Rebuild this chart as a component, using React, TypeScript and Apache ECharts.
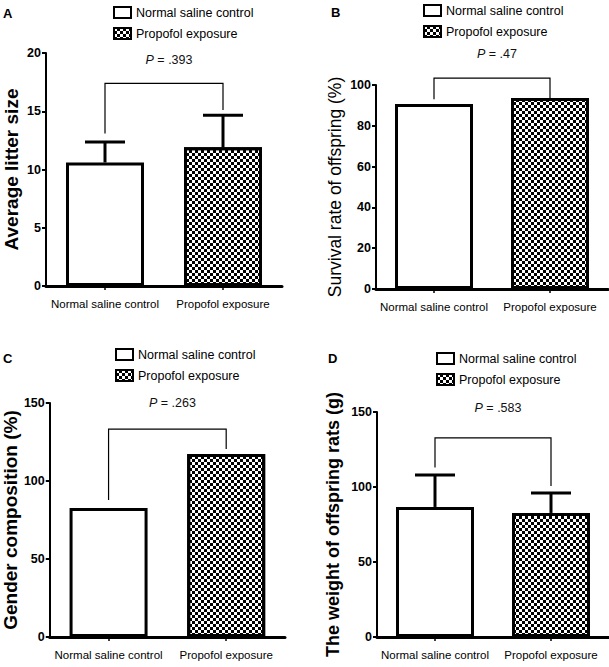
import React, { useEffect, useRef } from "react";
import * as echarts from "echarts";

const categories = ["Normal saline control", "Propofol exposure"];
const seriesNames = ["Normal saline control", "Propofol exposure"];

// Panel A: average litter size (mean, SD)
const litterMean = [10.6, 11.9];
const litterSD = [1.75, 2.75];
// Panel B: survival rate (%)
const survivalRate = [90.7, 93.6];
// Panel C: gender composition (%)
const genderComp = [82.7, 117.3];
// Panel D: weight of offspring rats (g)
const weightMean = [86.7, 82.7];
const weightSD = [21.3, 13.3];

const pValues = [".393", ".47", ".263", ".583"];
// bracket: [left leg bottom, right leg bottom, bracket top, P label level]
const brackets = [
  [13.1, 15.1, 17.4, 19.4],
  [93, 93.6, 103.4, 115],
  [87.8, 120.5, 133.3, 150],
  [113, 100.7, 132.7, 152.7],
];

const yTitles = [
  "Average litter size",
  "Survival rate of offspring (%)",
  "Gender composition (%)",
  "The weight of offspring rats (g)",
];
const yMax = [20, 100, 150, 150];
const yInterval = [5, 20, 50, 50];
const panelLetters = ["A", "B", "C", "D"];

const NARROW = '"Liberation Sans", Arial, sans-serif';
const ARIAL = '"Liberation Sans", Arial, sans-serif';

const grids = [
  { left: 46, top: 53, width: 236, height: 233 },
  { left: 376, top: 85, width: 232, height: 204 },
  { left: 49, top: 403, width: 236, height: 234 },
  { left: 377, top: 412, width: 232, height: 225 },
];
const legendPos = [
  { left: 108, top: 1 },
  { left: 418, top: -1 },
  { left: 110, top: 343 },
  { left: 431, top: 347 },
];
const titleStyle = [
  { gap: 25, size: 19, weight: "bold" },
  { gap: 32, size: 17.5, weight: "normal" },
  { gap: 29, size: 19, weight: "bold" },
  { gap: 35, size: 18, weight: "bold" },
];
const letterPos = [
  [3, 7],
  [331, 6],
  [3, 352],
  [328, 352],
];

const checker = {
  symbol: "rect",
  symbolSize: 1,
  color: "#000",
  backgroundColor: "#fff",
  dashArrayX: [
    [3, 3],
    [0, 3, 3, 0],
  ],
  dashArrayY: [3, 0],
  rotation: 0,
};

export default function App() {
  const ref = useRef<HTMLDivElement>(null);
  useEffect(() => {
    if (!ref.current) return;
    const chart = echarts.init(ref.current, null, { renderer: "svg" });

    const values = [litterMean, survivalRate, genderComp, weightMean];
    const errs: (number[] | null)[] = [litterSD, null, null, weightSD];

    const xAxis: any[] = [];
    const yAxis: any[] = [];
    const series: any[] = [];
    const legend: any[] = [];

    grids.forEach((g, i) => {
      xAxis.push({
        type: "category",
        gridIndex: i,
        data: categories,
        axisLine: { lineStyle: { color: "#000", width: 3 } },
        axisTick: { show: true, alignWithLabel: true, length: 4, lineStyle: { color: "#000", width: 1.5 } },
        axisLabel: { color: "#000", fontFamily: NARROW, fontSize: 11.5, margin: 12, interval: 0 },
        splitLine: { show: false },
      });
      yAxis.push({
        type: "value",
        gridIndex: i,
        min: 0,
        max: yMax[i],
        interval: yInterval[i],
        axisLine: { show: true, lineStyle: { color: "#000", width: 2 } },
        axisTick: { show: true, length: 4, lineStyle: { color: "#000", width: 2 } },
        axisLabel: { color: "#000", fontFamily: NARROW, fontWeight: "bold", fontSize: 12.5, margin: 5 },
        splitLine: { show: false },
        name: yTitles[i],
        nameLocation: "middle",
        nameGap: titleStyle[i].gap,
        nameTextStyle: {
          color: "#000",
          fontFamily: ARIAL,
          fontSize: titleStyle[i].size,
          fontWeight: titleStyle[i].weight,
        },
      });
      legend.push({
        data: seriesNames,
        orient: "vertical",
        left: legendPos[i].left,
        top: legendPos[i].top,
        icon: "rect",
        itemWidth: 17,
        itemHeight: 11,
        itemGap: 8,
        selectedMode: false,
        itemStyle: { borderWidth: 2, borderColor: "#000" },
        textStyle: { color: "#000", fontFamily: NARROW, fontSize: 12.5 },
      });

      const v = values[i];
      series.push({
        type: "bar",
        name: seriesNames[0],
        xAxisIndex: i,
        yAxisIndex: i,
        barWidth: 78,
        barGap: "-100%",
        data: [v[0], "-"],
        itemStyle: { color: "#fff", borderColor: "#000", borderWidth: 3 },
      });
      series.push({
        type: "bar",
        name: seriesNames[1],
        xAxisIndex: i,
        yAxisIndex: i,
        barWidth: 78,
        barGap: "-100%",
        data: ["-", v[1]],
        itemStyle: { color: "#fff", borderColor: "#000", borderWidth: 3, decal: checker },
      });

      const e = errs[i];
      if (e) {
        series.push({
          type: "custom",
          name: "error" + i,
          xAxisIndex: i,
          yAxisIndex: i,
          z: 3,
          data: v.map((m, k) => [k, m, m + e[k]]),
          encode: { x: 0, y: [1, 2] },
          renderItem: (params: any, api: any) => {
            const x = api.value(0);
            const p0 = api.coord([x, api.value(1)]);
            const p1 = api.coord([x, api.value(2)]);
            return {
              type: "group",
              children: [
                { type: "line", shape: { x1: p0[0], y1: p0[1], x2: p1[0], y2: p1[1] }, style: { stroke: "#000", lineWidth: 3 } },
                { type: "line", shape: { x1: p1[0] - 20, y1: p1[1], x2: p1[0] + 20, y2: p1[1] }, style: { stroke: "#000", lineWidth: 3 } },
              ],
            };
          },
        });
      }

      const b = brackets[i];
      const pText = pValues[i];
      series.push({
        type: "custom",
        name: "bracket" + i,
        xAxisIndex: i,
        yAxisIndex: i,
        z: 4,
        clip: false,
        data: [[0, b[0], 1, b[1], b[2], b[3]]],
        encode: { x: [0, 2], y: [1, 3, 4, 5] },
        renderItem: (params: any, api: any) => {
          const l0 = api.coord([api.value(0), api.value(1)]);
          const r0 = api.coord([api.value(2), api.value(3)]);
          const top = api.coord([0, api.value(4)])[1];
          const py = api.coord([0, api.value(5)])[1];
          return {
            type: "group",
            children: [
              {
                type: "polyline",
                shape: { points: [[l0[0], l0[1]], [l0[0], top], [r0[0], top], [r0[0], r0[1]]] },
                style: { stroke: "#000", lineWidth: 1.2, fill: null },
              },
              {
                type: "text",
                x: (l0[0] + r0[0]) / 2 + 5,
                y: py,
                style: {
                  text: "{i|P} = " + pText,
                  align: "center",
                  verticalAlign: "middle",
                  fill: "#111",
                  font: "12.5px " + NARROW,
                  rich: { i: { fontStyle: "italic", fontSize: 12.5, fontFamily: NARROW, fill: "#111" } },
                },
              },
            ],
          };
        },
      });
    });

    chart.setOption({
      animation: false,
      backgroundColor: "#fff",
      grid: grids.map((g) => ({ ...g, containLabel: false })),
      xAxis,
      yAxis,
      legend,
      series,
      graphic: panelLetters.map((t, i) => ({
        type: "text",
        left: letterPos[i][0],
        top: letterPos[i][1],
        style: { text: t, font: "bold 13px " + ARIAL, fill: "#000" },
      })),
    });
    return () => chart.dispose();
  }, []);
  return (
    <div
      ref={ref}
      style={{ position: "absolute", left: 0, top: 0, width: 609, height: 667, background: "#fff" }}
    />
  );
}
